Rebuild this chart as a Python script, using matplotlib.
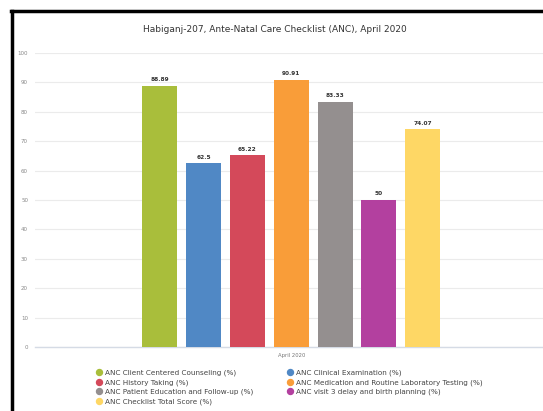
import numpy as np
import matplotlib.pyplot as plt
from matplotlib.lines import Line2D

# checklist indicators, April 2020
labels = ["ANC Client Centered Counseling (%)",
          "ANC Clinical Examination (%)",
          "ANC History Taking (%)",
          "ANC Medication and Routine Laboratory Testing (%)",
          "ANC Patient Education and Follow-up (%)",
          "ANC visit 3 delay and birth planning (%)",
          "ANC Checklist Total Score (%)"]
values = [88.89, 62.5, 65.22, 90.91, 83.33, 50, 74.07]
value_text = ["88.89", "62.5", "65.22", "90.91", "83.33", "50", "74.07"]
colors = ["#a9be3b", "#5088c5", "#d4495a", "#f99d39", "#948f8f", "#b3409f", "#fed765"]
period = "April 2020"
yticks = list(range(0, 101, 10))

W, H = 543, 411
fig = plt.figure(figsize=(W / 100, H / 100), dpi=100)

# axes placed in pixel terms
left, right, top, bottom = 35, 543, 53, 347
ax = fig.add_axes([left / W, 1 - bottom / H, (right - left) / W, (bottom - top) / H])

x = np.arange(len(values))
bars = ax.bar(x, values, width=0.8, color=colors, zorder=3)
for xi, v, t in zip(x, values, value_text):
    ax.text(xi, v + 1.2, t, ha="center", va="bottom", fontsize=4.2,
            fontweight="bold", color="#333333")

ax.set_xlim(-2.84, 8.74)
ax.set_ylim(0, 100)
ax.set_yticks(yticks)
ax.set_yticklabels([str(t) for t in yticks], fontsize=4, color="#888888")
ax.set_xticks([])
ax.tick_params(axis="y", length=0, pad=5)
ax.yaxis.grid(True, color="#ebebeb", linewidth=0.8, zorder=0)
for s in ["top", "right", "left"]:
    ax.spines[s].set_visible(False)
ax.spines["bottom"].set_color("#d5dbe5")
ax.spines["bottom"].set_linewidth(1.0)
ax.text(np.mean(x), -2.2, period, ha="center", va="top", fontsize=3.8, color="#777777")

fig.text(275 / W, 1 - 29 / H, "Habiganj-207, Ante-Natal Care Checklist (ANC), April 2020",
         ha="center", va="center", fontsize=6.5, color="#333333")

# legend laid out row by row in two columns
order = [0, 2, 4, 6, 1, 3, 5]
handles = [Line2D([], [], marker="o", linestyle="", markersize=4.3,
                  markerfacecolor=colors[i], markeredgecolor=colors[i]) for i in order]
fig.legend(handles, [labels[i] for i in order], ncol=2, frameon=False,
           loc="upper left", bbox_to_anchor=(92 / W, 1 - 366 / H),
           fontsize=5.2, labelcolor="#444444", handletextpad=0.3,
           columnspacing=4.6, labelspacing=0.42, handlelength=1.0, borderpad=0)

# dark frame at the top and left edges
fig.add_artist(Line2D([12 / W, 12 / W], [0, 1 - 11 / H], color="black", linewidth=2.5,
                      transform=fig.transFigure))
fig.add_artist(Line2D([11 / W, 1], [1 - 11 / H, 1 - 11 / H], color="black", linewidth=2.5,
                      transform=fig.transFigure))

fig.savefig("out.png", dpi=100)
